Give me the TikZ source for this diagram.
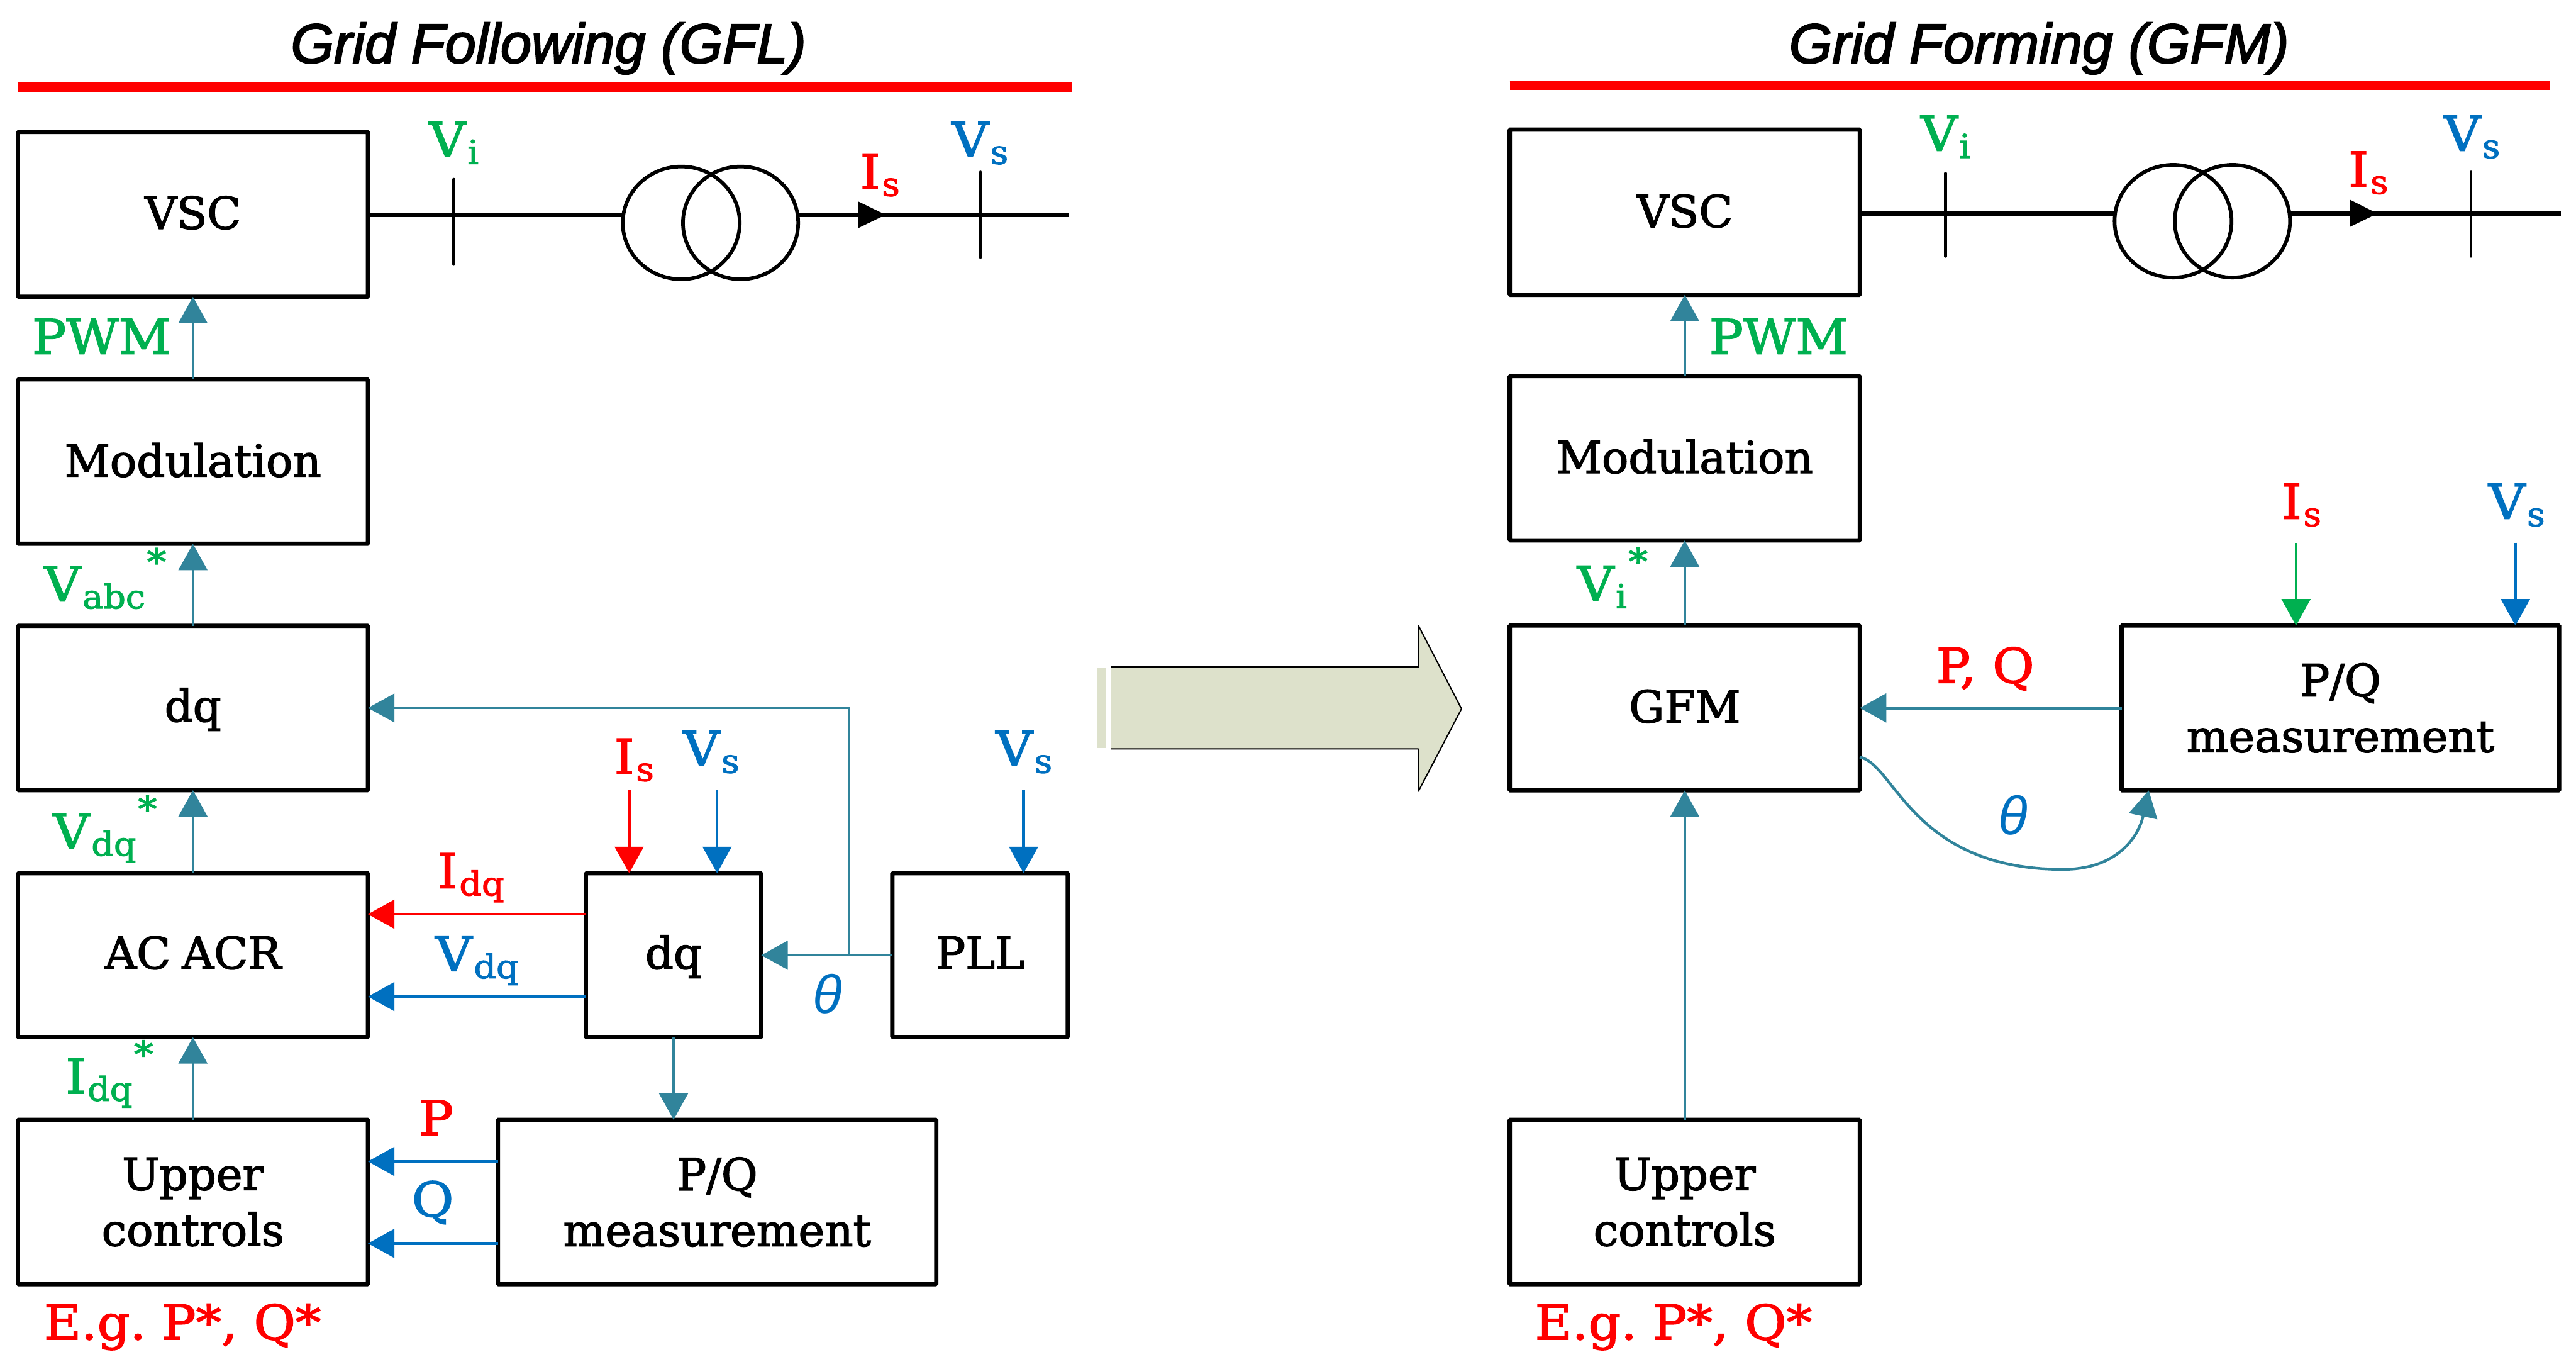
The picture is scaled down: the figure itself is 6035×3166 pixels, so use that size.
\documentclass[tikz,border=0pt]{standalone}
\usepackage{fontspec}
\setmainfont{DejaVu Serif}[FakeBold=2]
\newfontfamily\labf{DejaVu Serif}[FakeBold=2,FakeStretch=1.06]
\newfontfamily\sansf{Liberation Sans}[FakeBold=2.5]
\newfontfamily\thf{Liberation Sans}
\usetikzlibrary{arrows.meta,calc}
\definecolor{teal1}{HTML}{31849B}
\definecolor{grn}{HTML}{00B050}
\definecolor{rd}{HTML}{FF0000}
\definecolor{blu}{HTML}{0070C0}
\definecolor{khaki}{HTML}{DDE1CB}
\newcommand\bigf{\labf\fontsize{32}{36}\selectfont}
\newcommand\subf{\labf\fontsize{22}{24}\selectfont}
\newcommand\boxf{\fontsize{29.5}{37.2}\selectfont}
\newcommand\lab[6]{\node[lbl,text=#4] (#1) at (#2,#3) {\bigf #5\hspace{0.04cm}\raisebox{-0.17cm}{\subf #6}};}
\newcommand\labs[6]{\node[lbl,text=#4] (#1) at (#2,#3) {\bigf #5\hspace{0.04cm}\raisebox{-0.17cm}{\subf #6}\hspace{0.04cm}\raisebox{0.62cm}{\labf\fontsize{24}{24}\selectfont *}};}
\newcommand\plain[5]{\node[lbl,text=#4] (#1) at (#2,#3) {\bigf #5};}
\newcommand\thetal[3]{\node[lbl,text=blu] (#1) at (#2,#3) {\fontsize{36}{36}\selectfont\thf\itshape θ};}
\tikzset{
  blk/.style n args={2}{draw=black,line width=0.1cm,minimum width=#1*0.01cm,minimum height=#2*0.01cm,inner sep=0pt,outer sep=0pt,align=center,font=\boxf,fill=white,rounded corners=0.02cm},
  base off/.style={text height=#1*0.02cm,text depth=0pt},
  lbl/.style={inner sep=0pt,outer sep=0pt,anchor=base west},
  ttl/.style={inner sep=0pt,anchor=base,font=\fontsize{37}{37}\selectfont\sansf\itshape},
  tip/.style={-{Triangle[length=0.62cm,width=0.67cm]}},
  conn/.style={tip,line width=0.065cm,draw=#1,shorten >=0pt},
  elec/.style={line width=0.1cm,draw=black},
  bus/.style={line width=0.07cm,draw=black,line cap=round},
  coil/.style={line width=0.085cm,draw=black},
  redbar/.style={draw=rd,line width=0.21cm}
}
\begin{document}
\begin{tikzpicture}[x=0.01cm,y=-0.01cm]
\useasboundingbox (0,0) rectangle (6035,3166);
\fill[white] (0,0) rectangle (6035,3166);

% ---------- titles
\node[ttl] (t1) at (1285,147) {Grid Following (GFL)};
\node[ttl] (t2) at (4777,147) {Grid Forming (GFM)};
\coordinate (b1a) at (41,204); \coordinate (b1b) at (2510,204);
\coordinate (b2a) at (3537,200); \coordinate (b2b) at (5974,200);
\draw[redbar] (b1a) -- (b1b);
\draw[redbar] (b2a) -- (b2b);

% ---------- left boxes
\node[blk={820}{386},base off=34] (vsc) at (452,502) {VSC};
\node[blk={820}{385},base off=35] (mod) at (452,1081) {Modulation};
\node[blk={820}{385},base off=32] (dqa) at (452,1658) {dq};
\node[blk={820}{384},base off=32] (acr) at (452,2237) {AC\hspace{-0.06cm} ACR};
\node[blk={820}{385}] (upl) at (452,2815) {Upper\\controls};
\node[blk={411}{384},base off=32] (dqb) at (1578,2237) {dq};
\node[blk={411}{384},base off=32] (pll) at (2296,2237) {PLL};
\node[blk={1027}{385}] (pql) at (1680,2815) {P/Q\\measurement};

% ---------- right boxes
\node[blk={820}{387},base off=35] (vscr) at (3947,497) {VSC};
\node[blk={820}{385},base off=35] (modr) at (3947,1073) {Modulation};
\node[blk={820}{386},base off=34] (gfm) at (3947,1658) {GFM};
\node[blk={1025}{386}] (pqr) at (5483,1658) {P/Q\\measurement};
\node[blk={820}{385}] (upr) at (3947,2815) {Upper\\controls};

% ---------- left one-line diagram
\coordinate (lend) at (2504,504);
\coordinate (t1c) at (1596,522);
\coordinate (t2c) at (1735,522);
\draw[elec] (vsc.east |- lend) -- (1459,504);
\draw[elec] (1870,504) -- (lend);
\draw[coil] (t1c) ellipse [x radius=137,y radius=132];
\draw[coil] (t2c) ellipse [x radius=135,y radius=132];
\draw[bus] (1063,420) -- (1063,619);
\draw[bus] (2297,403) -- (2297,603);
\fill[black] (2011,472) -- (2075,503) -- (2011,534) -- cycle;

% ---------- right one-line diagram
\coordinate (rend) at (5999,500);
\coordinate (t3c) at (5091,518);
\coordinate (t4c) at (5230,518);
\draw[elec] (vscr.east |- rend) -- (4954,500);
\draw[elec] (5365,500) -- (rend);
\draw[coil] (t3c) ellipse [x radius=137,y radius=132];
\draw[coil] (t4c) ellipse [x radius=135,y radius=132];
\draw[bus] (4558,406) -- (4558,600);
\draw[bus] (5789,403) -- (5789,600);
\fill[black] (5506,468) -- (5570,500) -- (5506,531) -- cycle;

% ---------- left connectors
\draw[conn=teal1] (mod.north) -- (vsc.south);
\draw[conn=teal1] (dqa.north) -- (mod.south);
\draw[conn=teal1] (acr.north) -- (dqa.south);
\draw[conn=teal1] (upl.north) -- (acr.south);
\coordinate (ry) at (0,2141);
\coordinate (by) at (0,2334);
\draw[conn=rd] (dqb.west |- ry) -- (acr.east |- ry);
\draw[conn=blu] (dqb.west |- by) -- (acr.east |- by);
\coordinate (isin) at (1474,1850);
\coordinate (vsin) at (1680,1850);
\coordinate (vpin) at (2398,1850);
\draw[conn=rd] (isin) -- (isin |- dqb.north);
\draw[conn=blu] (vsin) -- (vsin |- dqb.north);
\draw[conn=blu] (vpin) -- (vpin |- pll.north);
\draw[conn=teal1] (pll.west) -- (dqb.east);
\coordinate (brn) at (1988,2237);
\draw[draw=teal1,line width=0.045cm,tip] (brn) -- (brn |- dqa.east) -- (dqa.east);
\draw[conn=teal1] (dqb.south) -- (dqb.south |- pql.north);
\coordinate (py) at (0,2720);
\coordinate (qy) at (0,2912);
\draw[conn=blu] (pql.west |- py) -- (upl.east |- py);
\draw[conn=blu] (pql.west |- qy) -- (upl.east |- qy);

% ---------- right connectors
\draw[conn=teal1] (modr.north) -- (vscr.south);
\draw[conn=teal1] (gfm.north) -- (modr.south);
\draw[conn=teal1] (upr.north) -- (gfm.south);
\draw[conn=teal1] (pqr.west) -- (gfm.east);
\coordinate (isr) at (5379,1271);
\coordinate (vsr) at (5893,1271);
\draw[conn=grn] (isr) -- (isr |- pqr.north);
\draw[conn=blu] (vsr) -- (vsr |- pqr.north);
\coordinate (cs) at (0,1773);
\coordinate (ce) at (5034,0);
\draw[conn=teal1] (gfm.east |- cs) .. controls (4440,1790) and (4480,2036) .. (4833,2036)
   .. controls (4960,2036) and (5010,1960) .. (ce |- pqr.south);

% ---------- block arrow
\fill[khaki] (2602,1562) -- (3323,1562) -- (3323,1465) -- (3424,1660) -- (3323,1853) -- (3323,1754) -- (2602,1754) -- cycle;
\fill[khaki] (2571,1564) rectangle (2592,1752);
\draw[black,line width=0.03cm,line join=round] (2602,1562) -- (3323,1562) -- (3323,1465) -- (3424,1660) -- (3323,1853) -- (3323,1754) -- (2602,1754);

% ---------- left labels
\lab{lvi}{1005}{367}{grn}{V}{i}
\lab{lvs}{2230}{367}{blu}{V}{s}
\lab{lis}{2015}{442}{rd}{I}{s}
\plain{lpwm}{75}{829}{grn}{PWM}
\labs{lvabc}{103}{1408}{grn}{V}{abc}
\labs{lvdq}{124}{1987}{grn}{V}{dq}
\labs{lidq}{154}{2561}{grn}{I}{dq}
\lab{lis2}{1439}{1812}{rd}{I}{s}
\lab{lvs2}{1600}{1793}{blu}{V}{s}
\lab{lvs3}{2333}{1793}{blu}{V}{s}
\lab{lidq2}{1025}{2080}{rd}{I}{dq}
\lab{lvdq2}{1020}{2274}{blu}{V}{dq}
\thetal{lth}{1904}{2373}
\plain{lp}{982}{2659}{rd}{P}
\plain{lq}{965}{2849}{blu}{Q}
\plain{leg}{103}{3137}{rd}{E.g.\hspace{-0.14cm} P*, Q*}

% ---------- right labels
\lab{rvi}{4500}{353}{grn}{V}{i}
\lab{rvs}{5725}{353}{blu}{V}{s}
\lab{ris}{5502}{437}{rd}{I}{s}
\plain{rpwm}{4004}{829}{grn}{PWM}
\labs{rvi2}{3695}{1407}{grn}{V}{i}
\lab{ris2}{5345}{1215}{rd}{I}{s}
\lab{rvs2}{5830}{1215}{blu}{V}{s}
\plain{rpq}{4536}{1599}{rd}{P, Q}
\thetal{rth}{4682}{1955}
\plain{reg}{3596}{3137}{rd}{E.g.\hspace{-0.14cm} P*, Q*}
\end{tikzpicture}
\end{document}
